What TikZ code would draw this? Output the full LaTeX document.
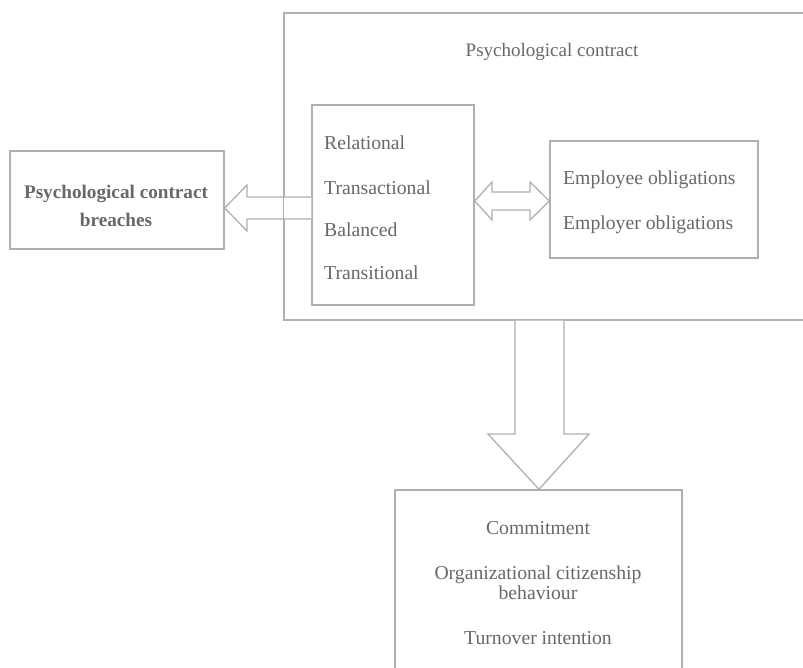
\documentclass[tikz,border=0pt]{standalone}
\usepackage{fontspec}
\setmainfont{Liberation Serif}
\definecolor{edge}{HTML}{B0B0B0}
\definecolor{ink}{HTML}{686868}
\begin{document}
\begin{tikzpicture}[x=1pt,y=-1pt,
  box/.style={draw=edge, line width=1.4pt, fill=white, inner sep=0pt, minimum width=#1},
  txt/.style={text=ink, font=\fontsize{19.7}{20.5}\selectfont, inner sep=0pt, align=center},
  blockarrow/.style={draw=edge, line width=1.3pt, fill=white, line join=miter}]
\useasboundingbox (0,0) rectangle (803,667);
\clip (0,0) rectangle (803,667);

% outer frame of the psychological contract
\node[box=536pt, minimum height=307pt] (outer) at (552,166.5) {};
\node[txt, font=\fontsize{19}{20}\selectfont] (pctitle) at (552,52) {Psychological contract};

% contract types
\node[box=162pt, minimum height=200pt] (types) at (393,205) {};
\node[txt, anchor=west] (rel) at (324,143) {Relational};
\node[txt, anchor=west] (tra) at (324,188) {Transactional};
\node[txt, anchor=west] (bal) at (324,230) {Balanced};
\node[txt, anchor=west] (trn) at (324,273) {Transitional};

% obligations
\node[box=208pt, minimum height=117pt] (oblig) at (654,199.5) {};
\node[txt, anchor=west] (ee) at (563,180) {Employee obligations};
\node[txt, anchor=west] (er) at (563,225) {Employer obligations};

% breaches
\node[box=214pt, minimum height=98pt] (breach) at (117,200) {};
\node[txt, font=\bfseries\fontsize{19.2}{28}\selectfont] (brtext) at (116,206) {Psychological contract\\breaches};

% outcomes
\node[box=287pt, minimum height=220pt] (outcome) at (538.5,600) {};
\node[txt] (com) at (538,528) {Commitment};
\node[txt] (ocb) at (538,583) {Organizational citizenship\\behaviour};
\node[txt] (tov) at (538,638) {Turnover intention};

% types -> breaches
\draw[blockarrow] (types.west |- 0,197) -- (247,197) -- (247,185)
  -- (breach.east |- 0,208) -- (247,231) -- (247,219) -- (types.west |- 0,219);
\draw[edge, line width=1.4pt] (outer.north west) -- (outer.south west);

% types <-> obligations
\draw[blockarrow] (types.east |- 0,201) -- (492,182) -- (492,192) -- (530,192)
  -- (530,182) -- (oblig.west |- 0,201) -- (530,220) -- (530,210)
  -- (492,210) -- (492,220) -- cycle;

% contract -> outcomes
\draw[blockarrow] (515,0 |- outer.south) -- (515,434) -- (488,434)
  -- (539,0 |- outcome.north) -- (589,434) -- (564,434) -- (564,0 |- outer.south);
\end{tikzpicture}
\end{document}
